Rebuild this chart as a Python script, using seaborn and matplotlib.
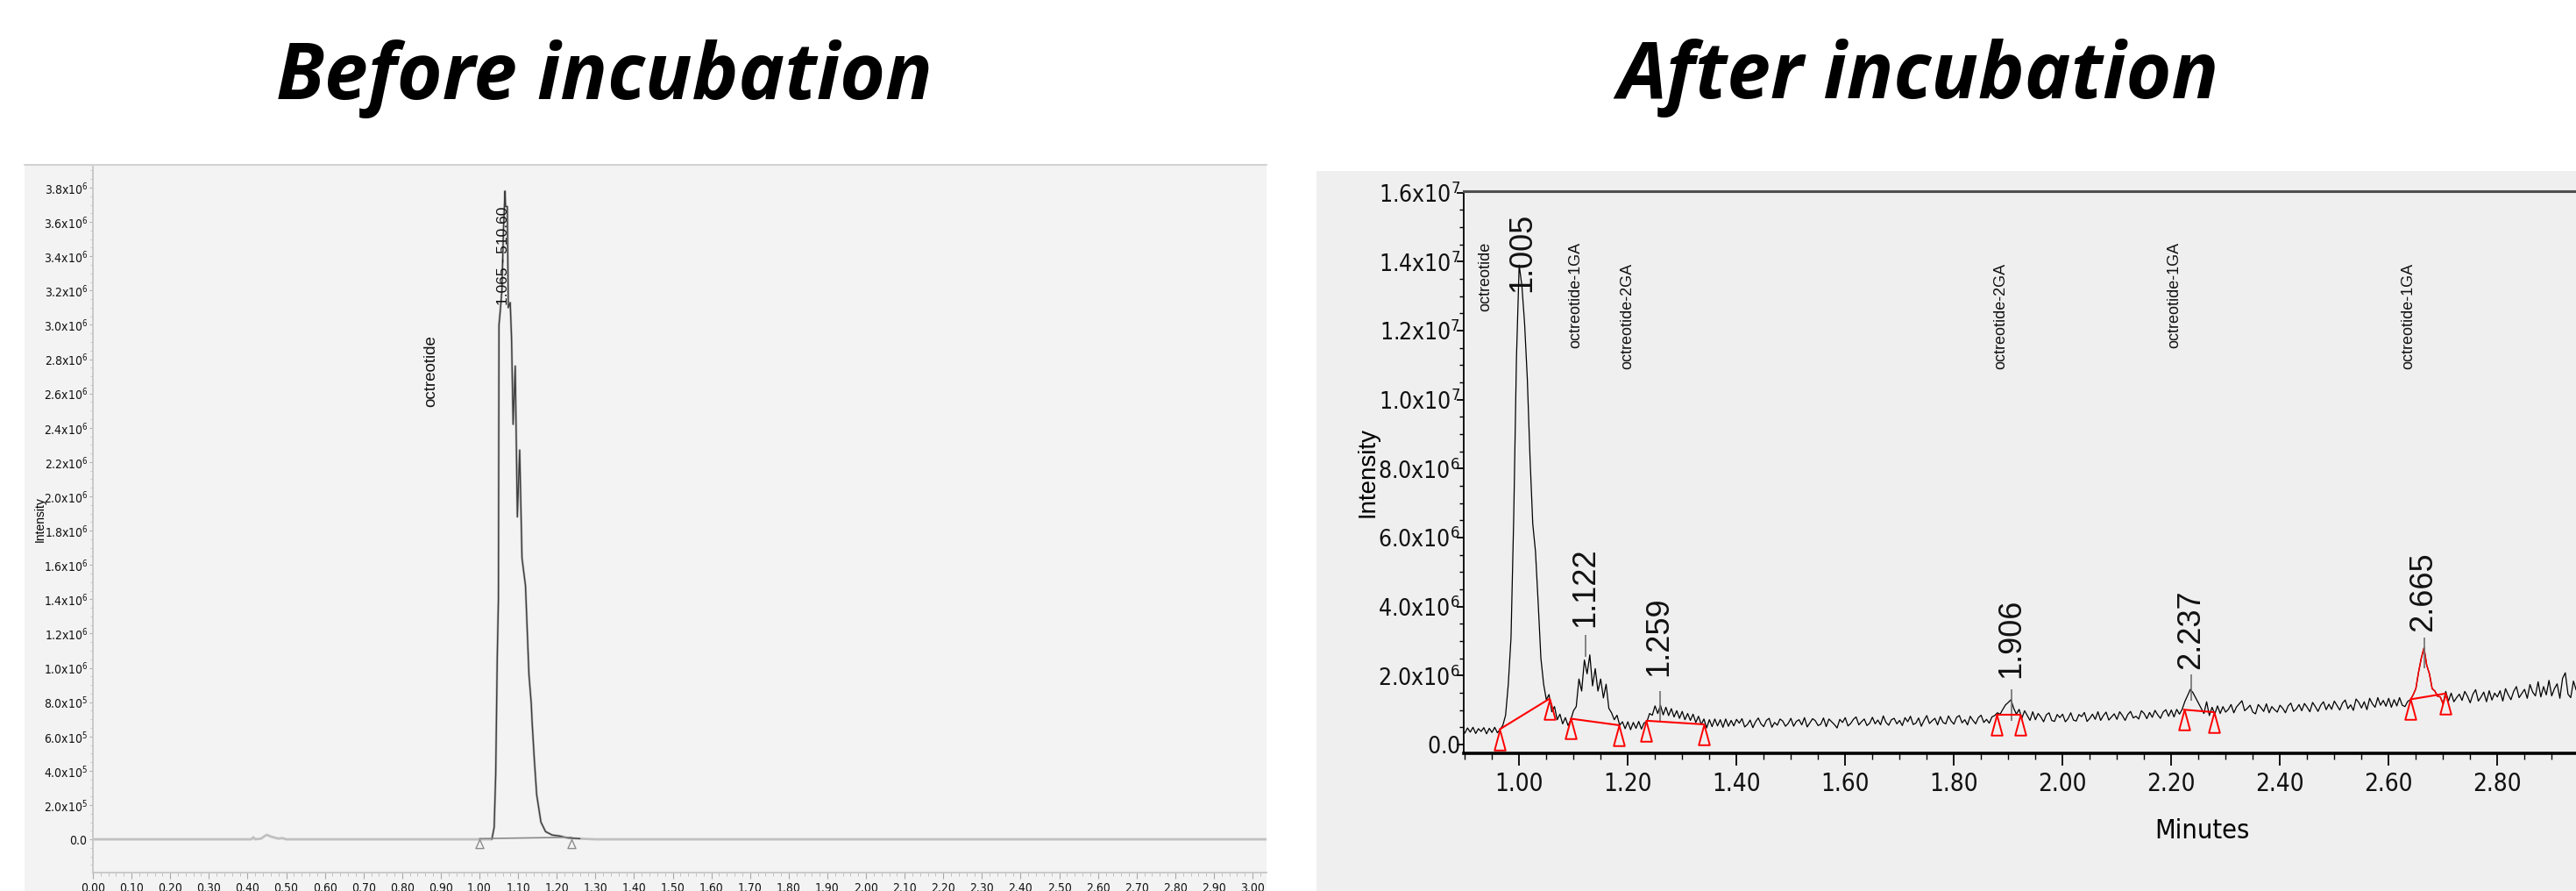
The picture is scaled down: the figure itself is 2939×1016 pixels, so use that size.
import numpy as np
import matplotlib
matplotlib.use("Agg")
import matplotlib.pyplot as plt
import seaborn as sns
from matplotlib.path import Path
from matplotlib.patches import Rectangle
from matplotlib.lines import Line2D
from matplotlib.font_manager import FontProperties, fontManager
from matplotlib.ticker import MultipleLocator, FixedLocator

# ---------------- data ----------------
titles = ["Before incubation", "After incubation"]

# Before incubation trace (minutes, intensity in 1e6)
before_time = [0.00, 0.41, 0.415, 0.42, 0.435, 0.445, 0.45, 0.46, 0.47, 0.48, 0.49, 0.50, 0.52,
               1.00, 1.032, 1.038, 1.042, 1.044, 1.046, 1.049, 1.0505, 1.0545, 1.058, 1.062,
               1.066, 1.0675, 1.072, 1.0745, 1.0795, 1.083, 1.087, 1.0925, 1.098, 1.104, 1.110,
               1.115, 1.119, 1.123, 1.128, 1.134, 1.136, 1.142, 1.148, 1.159, 1.171, 1.188,
               1.206, 1.229, 1.26, 1.30, 3.04]
before_intensity = [0.0, 0.0, 0.012, 0.0, 0.004, 0.02, 0.026, 0.016, 0.01, 0.004, 0.007, 0.0, 0.0,
                    0.0, 0.0, 0.07, 0.38, 0.72, 1.06, 1.40, 3.00, 3.10, 3.20, 3.55,
                    3.78, 3.69, 3.69, 3.10, 3.13, 2.92, 2.42, 2.76, 1.88, 2.27, 1.64,
                    1.55, 1.48, 1.25, 0.96, 0.79, 0.69, 0.46, 0.26, 0.10, 0.045, 0.025,
                    0.02, 0.008, 0.004, 0.0, 0.0]
before_marker_time = [1.000, 1.238]
before_marker_value = [0.0, 0.0]
before_peak_label = "1.065 - 510.60"
before_peak_label_pos = (1.062, 3.40)
before_compound = "octreotide"
before_compound_pos = (0.875, 2.73)
before_yticks = [round(0.2 * i, 1) for i in range(20)]
before_xticks = [round(0.1 * i, 2) for i in range(31)]

# After incubation trace: intensity (1e6) sampled every 0.005 min from 0.895 min
after_start, after_step = 0.895, 0.005
after_intensity = [
    0.45, 0.33, 0.48, 0.36, 0.50, 0.32, 0.46, 0.38, 0.49, 0.31, 0.47, 0.35, 0.50, 0.34, 0.44, 0.56, 0.85, 1.75, 3.10, 6.60,
    11.2, 13.9, 13.3, 12.2, 10.6, 8.3, 6.4, 5.6, 4.1, 2.5, 1.75, 1.30, 1.45, 0.95, 1.10, 0.72, 0.88, 0.60, 0.78, 0.55,
    0.72, 0.98, 1.10, 1.90, 1.55, 2.45, 2.05, 2.60, 1.70, 2.20, 1.55, 1.90, 1.35, 1.75, 1.05, 0.92, 0.72, 0.85, 0.56, 0.66,
    0.46, 0.66, 0.43, 0.64, 0.47, 0.67, 0.45, 0.63, 0.66, 0.90, 0.85, 1.12, 0.90, 1.14, 0.86, 1.08, 0.84, 1.04, 0.80, 0.98,
    0.76, 0.96, 0.72, 0.90, 0.70, 0.88, 0.64, 0.82, 0.58, 0.74, 0.48, 0.72, 0.52, 0.74, 0.54, 0.72, 0.50, 0.74, 0.53, 0.70,
    0.54, 0.73, 0.62, 0.75, 0.51, 0.58, 0.71, 0.49, 0.66, 0.77, 0.60, 0.52, 0.70, 0.76, 0.50, 0.64, 0.56, 0.74, 0.68, 0.53,
    0.61, 0.76, 0.53, 0.67, 0.72, 0.57, 0.78, 0.51, 0.63, 0.75, 0.69, 0.55, 0.59, 0.77, 0.52, 0.74, 0.66, 0.58, 0.48, 0.73,
    0.64, 0.78, 0.54, 0.61, 0.73, 0.80, 0.57, 0.66, 0.74, 0.55, 0.62, 0.79, 0.60, 0.71, 0.57, 0.83, 0.64, 0.56, 0.72, 0.76,
    0.60, 0.70, 0.55, 0.78, 0.66, 0.82, 0.58, 0.62, 0.77, 0.53, 0.70, 0.84, 0.61, 0.69, 0.76, 0.57, 0.81, 0.64, 0.60, 0.83,
    0.68, 0.59, 0.79, 0.84, 0.63, 0.72, 0.57, 0.82, 0.70, 0.60, 0.78, 0.85, 0.64, 0.73, 0.62, 0.80, 0.84, 0.92, 0.88, 1.02,
    1.15, 1.22, 1.30, 1.05, 0.88, 1.02, 0.76, 0.98, 0.84, 0.70, 0.95, 0.72, 0.90, 0.80, 0.66, 0.86, 0.92, 0.70, 0.67, 0.87,
    0.78, 0.88, 0.66, 0.75, 0.92, 0.71, 0.68, 0.87, 0.81, 0.93, 0.67, 0.76, 0.88, 0.73, 0.95, 0.70, 0.84, 0.94, 0.71, 0.80,
    0.89, 0.73, 0.95, 0.84, 0.70, 0.87, 0.96, 0.77, 0.82, 0.74, 0.98, 0.90, 0.75, 0.93, 0.79, 0.99, 0.86, 0.76, 0.94, 1.01,
    0.82, 1.00, 0.80, 1.02, 0.88, 1.02, 1.25, 1.42, 1.60, 1.50, 1.35, 1.20, 1.05, 0.90, 1.24, 0.84, 1.08, 0.88, 1.12, 0.90,
    1.10, 0.94, 1.02, 1.16, 0.92, 1.09, 1.18, 1.27, 0.98, 1.05, 1.14, 0.94, 0.89, 1.16, 1.07, 0.96, 1.18, 0.92, 1.10, 1.01,
    0.94, 1.14, 1.05, 0.92, 1.12, 1.20, 0.96, 1.03, 1.16, 0.98, 1.19, 1.08, 0.95, 1.22, 1.10, 0.96, 1.14, 1.24, 1.01, 1.17,
    1.02, 1.26, 1.13, 1.00, 1.20, 1.29, 1.04, 1.15, 0.99, 1.32, 1.22, 1.06, 1.24, 1.01, 1.34, 1.18, 1.08, 1.36, 1.14, 1.28,
    1.11, 1.34, 1.08, 1.30, 1.12, 1.36, 1.14, 1.10, 1.25, 1.30, 1.44, 1.62, 2.10, 2.50, 2.80, 2.30, 2.05, 1.62, 1.55, 1.40,
    1.38, 1.18, 1.54, 1.26, 1.49, 1.24, 1.36, 1.46, 1.28, 1.54, 1.40, 1.21, 1.46, 1.59, 1.26, 1.38, 1.52, 1.24, 1.56, 1.29,
    1.49, 1.38, 1.56, 1.26, 1.62, 1.44, 1.30, 1.54, 1.68, 1.36, 1.48, 1.60, 1.34, 1.74, 1.52, 1.41, 1.82, 1.38, 1.68, 1.44,
    1.86, 1.41, 1.62, 1.76, 1.34, 1.92, 2.08, 1.46, 1.36, 1.84, 1.58,
]
red_peak_window = (2.638, 2.702)

peak_rt_labels = ["1.005", "1.122", "1.259", "1.906", "2.237", "2.665"]
peak_label_time = [1.0055, 1.121, 1.258, 1.906, 2.2366, 2.664]
peak_label_value = [13.12, 3.41, 1.97, 1.93, 2.19, 3.29]

spike_time = [1.122, 1.259, 1.906, 2.237, 2.665]
spike_top = [3.17, 1.56, 1.60, 2.03, 3.09]
spike_bottom = [2.55, 0.69, 0.69, 1.27, 2.20]

compound_names = ["octreotide", "octreotide-1GA", "octreotide-2GA",
                  "octreotide-2GA", "octreotide-1GA", "octreotide-1GA"]
compound_time = [0.938, 1.104, 1.200, 1.887, 2.206, 2.636]
compound_top = [14.56, 14.57, 13.96, 13.96, 14.57, 13.96]

base_t0 = [0.964, 1.095, 1.234, 1.879, 2.223, 2.640]
base_v0 = [0.44, 0.75, 0.69, 0.86, 1.01, 1.31]
base_t1 = [1.056, 1.184, 1.340, 1.922, 2.278, 2.705]
base_v1 = [1.33, 0.56, 0.585, 0.86, 0.94, 1.48]

after_yticks = [0, 2, 4, 6, 8, 10, 12, 14, 16]
after_xticks = [1.0, 1.2, 1.4, 1.6, 1.8, 2.0, 2.2, 2.4, 2.6, 2.8]

# ---------------- style ----------------
sns.set_style("white")
plt.rcParams["font.family"] = ["Liberation Sans", "DejaVu Sans"]
plt.rcParams["text.color"] = "black"
plt.rcParams["axes.labelcolor"] = "black"

avail = {f.name for f in fontManager.ttflist}
if "Liberation Sans Narrow" in avail:
    NARROW = dict(family="Liberation Sans Narrow")
else:
    NARROW = dict(family="DejaVu Sans", stretch="condensed")


def nfp(size):
    return FontProperties(size=size, **NARROW)


def sci_label(v_millions):
    if v_millions == 0:
        return r"$\mathregular{0.0}$"
    if v_millions < 1:
        return r"$\mathregular{%.1fx10^{5}}$" % (v_millions * 10)
    if v_millions < 10:
        return r"$\mathregular{%.1fx10^{6}}$" % v_millions
    return r"$\mathregular{%.1fx10^{7}}$" % (v_millions / 10)


W, H = 2939, 1016
fig = plt.figure(figsize=(W / 100, H / 100), dpi=100)
fig.patch.set_facecolor("white")


def px_rect(x0, y0, x1, y1, color):
    fig.patches.append(Rectangle((x0 / W, 1 - y1 / H), (x1 - x0) / W, (y1 - y0) / H,
                                 transform=fig.transFigure, facecolor=color,
                                 edgecolor="none", zorder=-5))


px_rect(28, 188, 1445, 1016, "#f3f3f3")
fig.lines.append(Line2D([28 / W, 1445 / W], [1 - 188 / H] * 2, transform=fig.transFigure,
                        color="#d2d2d2", lw=1.5))
px_rect(1502, 195, 2939, 1016, "#efefef")

# titles
title_family = "Open Sans" if "Open Sans" in avail else "Lato"
title_fp = dict(family=title_family, weight="bold", style="italic", size=64, color="black")
fig.text(689 / W, 1 - 113 / H, titles[0], ha="center", va="baseline", **title_fp)
fig.text(2188 / W, 1 - 112 / H, titles[1], ha="center", va="baseline", **title_fp)

# ---------------- left panel ----------------
axL = fig.add_axes([106 / W, 1 - 995 / H, (1445 - 106) / W, (995 - 188) / H])
axL.set_facecolor("#f3f3f3")
bt = np.array(before_time)
bv = np.array(before_intensity)
sns.lineplot(x=bt, y=bv, ax=axL, color="#c0c0c0", lw=2.0, estimator=None, sort=False)
m = (bt >= 1.03) & (bt <= 1.26)
sns.lineplot(x=bt[m], y=bv[m], ax=axL, color="#3c3c3c", lw=1.0, estimator=None, sort=False)
axL.plot([before_marker_time[0], before_marker_time[1]], [0.004, 0.012], color="#8a8a8a", lw=1.2)

tri_small = Path([(0, 0), (-0.45, -1), (0.45, -1), (0, 0)],
                 [Path.MOVETO, Path.LINETO, Path.LINETO, Path.CLOSEPOLY])
axL.plot(before_marker_time, before_marker_value, ls="none", marker=tri_small, ms=14.5,
         mfc="none", mec="#8c8c8c", mew=1.0)

axL.text(before_peak_label_pos[0], before_peak_label_pos[1], before_peak_label, rotation=90,
         ha="center", va="center", fontsize=12.5, color="#111111")
axL.text(before_compound_pos[0], before_compound_pos[1], before_compound, rotation=90,
         ha="center", va="center", fontsize=13.5, color="#111111")

axL.set_xlim(0, 3.036)
axL.set_ylim(-0.194, 3.933)
for s in ["top", "right"]:
    axL.spines[s].set_visible(False)
for s in ["left", "bottom"]:
    axL.spines[s].set_color("#c6c6c6")
    axL.spines[s].set_linewidth(1.3)
axL.set_xticks(before_xticks)
axL.set_xticklabels(["%.2f" % v for v in before_xticks], fontproperties=nfp(10), color="#111111")
axL.xaxis.set_minor_locator(MultipleLocator(0.02))
axL.set_yticks(before_yticks)
axL.set_yticklabels([sci_label(v) for v in before_yticks], fontproperties=nfp(10), color="#111111")
axL.yaxis.set_minor_locator(MultipleLocator(0.05))
axL.tick_params(axis="x", which="major", direction="out", length=5, width=0.8, color="#a8a8a8", pad=3,
                bottom=True)
axL.tick_params(axis="x", which="minor", direction="out", length=3, width=0.6, color="#b8b8b8", bottom=True)
axL.tick_params(axis="y", which="major", direction="out", length=3, width=0.8, color="#b0b0b0", pad=1,
                left=True)
axL.tick_params(axis="y", which="minor", direction="out", length=2, width=0.6, color="#c0c0c0", left=True)
axL.set_xlabel("")
axL.set_ylabel("Intensity", fontsize=10)
axL.yaxis.set_label_coords((46 - 106) / 1339, (995 - 592) / 807)
axL.yaxis.label.set_va("center")

# ---------------- right panel ----------------
axR = fig.add_axes([1670 / W, 1 - 859.3 / H, (2939 - 1670) / W, (859.3 - 218) / H])
axR.set_facecolor("#efefef")
av = np.array(after_intensity)
at = np.round(after_start + after_step * np.arange(len(av)), 4)
sns.lineplot(x=at, y=av, ax=axR, color="black", lw=0.9, estimator=None, sort=False)
rm = (at >= red_peak_window[0]) & (at <= red_peak_window[1])
sns.lineplot(x=at[rm], y=av[rm], ax=axR, color="#ff0000", lw=1.1, estimator=None, sort=False)
axR.vlines(spike_time, spike_bottom, spike_top, color="#707070", lw=1.2, zorder=3)

for t0, v0, t1, v1 in zip(base_t0, base_v0, base_t1, base_v1):
    axR.plot([t0, t1], [v0, v1], color="#ff0000", lw=1.5, zorder=4)
tri_big = Path([(0, 0), (-0.27, -1), (0.27, -1), (0, 0)],
               [Path.MOVETO, Path.LINETO, Path.LINETO, Path.CLOSEPOLY])
axR.plot(base_t0 + base_t1, base_v0 + base_v1, ls="none", marker=tri_big, ms=33.5,
         mfc="none", mec="#ff0000", mew=1.4, zorder=5)

for lab, t, v in zip(peak_rt_labels, peak_label_time, peak_label_value):
    axR.text(t, v, lab, rotation=90, ha="center", va="bottom", fontsize=26, color="#111111", zorder=6)
for name, t, v in zip(compound_names, compound_time, compound_top):
    axR.text(t, v, name, rotation=90, ha="center", va="top", fontsize=13, color="#111111")

axR.set_xlim(0.898, 2.9447)
axR.set_ylim(-0.262, 16.04)
axR.spines["right"].set_visible(False)
axR.spines["left"].set_color("black")
axR.spines["left"].set_linewidth(1.3)
axR.spines["bottom"].set_color("black")
axR.spines["bottom"].set_linewidth(2.6)
axR.spines["top"].set_color("#505050")
axR.spines["top"].set_linewidth(2.2)
axR.xaxis.set_major_locator(FixedLocator(after_xticks))
axR.set_xticklabels(["%.2f" % v for v in after_xticks], fontproperties=nfp(20), color="#111111")
axR.xaxis.set_minor_locator(MultipleLocator(0.05))
axR.set_yticks(after_yticks)
axR.set_yticklabels([sci_label(v) for v in after_yticks], fontproperties=nfp(19), color="#111111")
axR.yaxis.set_minor_locator(MultipleLocator(0.5))
axR.tick_params(axis="x", which="major", direction="out", length=10, width=1.3, color="black", pad=5,
                bottom=True)
axR.tick_params(axis="x", which="minor", direction="out", length=5, width=1.0, color="black", bottom=True)
axR.tick_params(axis="y", which="major", direction="out", length=6, width=1.3, color="black", pad=-3,
                left=True)
axR.tick_params(axis="y", which="minor", direction="out", length=3.5, width=1.0, color="black", left=True)

axR.set_xlabel("Minutes", fontproperties=nfp(22))
axR.xaxis.set_label_coords((2512 - 1670) / 1269, (859.3 - 948) / 641.3)
axR.xaxis.label.set_va("center")
axR.set_ylabel("Intensity", fontsize=20)
axR.yaxis.set_label_coords((1560 - 1670) / 1269, (859.3 - 538) / 641.3)
axR.yaxis.label.set_va("center")

fig.savefig("out.png", dpi=100, facecolor="white")
